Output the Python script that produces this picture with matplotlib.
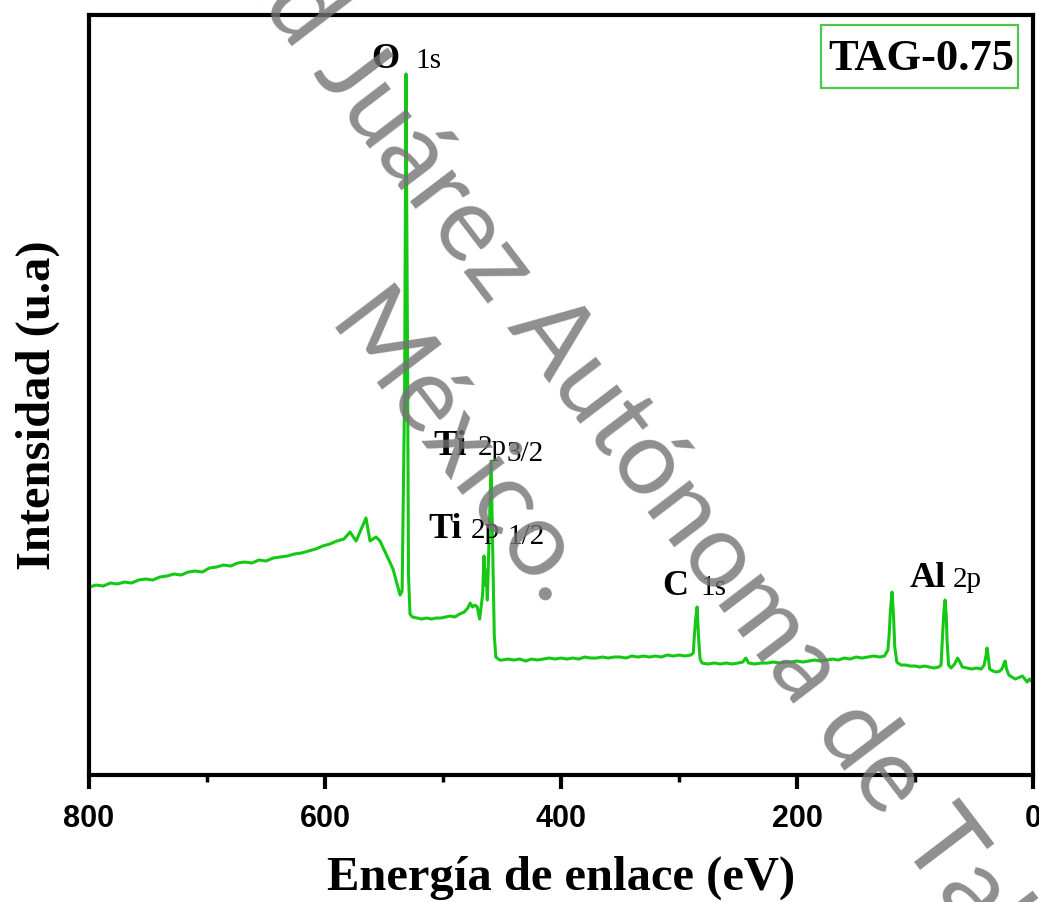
import numpy as np
import matplotlib
matplotlib.use('Agg')
import matplotlib.pyplot as plt
from matplotlib.ticker import MultipleLocator
from matplotlib.patches import Rectangle

#-----------------------------------------------------------------------
# Espectro XPS general, muestra TAG-0.75
# energia de enlace (eV) / intensidad (u.a.)
#-----------------------------------------------------------------------
e_fondo = [800, 794, 788, 782, 776, 770, 764, 758, 752, 746, 740, 734, 728, 722,
           716, 710, 704, 698, 692, 686, 680, 674, 668, 662, 656, 650, 644, 638,
           632, 626, 620, 614, 608, 602, 596, 590, 584, 578.8, 573.7, 565.3, 561.9,
           556.8, 553.4, 547.5, 542.4, 539.0, 536.4, 534.7]
i_fondo = [188, 190, 189, 192, 191, 193, 192, 195, 196, 195, 198, 199, 201, 200,
           203, 204, 203, 207, 208, 210, 209, 212, 213, 212, 215, 214, 217, 218,
           219, 221, 222, 224, 226, 229, 231, 234, 236, 243, 234, 257, 234,
           238, 234, 219, 206, 191, 180, 184]

e_O1s = [532.6, 531.4, 530.1, 529.3, 528.0]
i_O1s = [380, 701, 420, 200, 161]

e_meseta = [526, 522, 518, 514, 510, 506, 502, 498, 494, 490, 486, 482, 479,
            477, 475, 473, 471, 469]
i_meseta = [158, 157, 156, 157, 156, 157, 157, 158, 159, 158, 161, 163, 167,
            172, 168, 170, 168, 156]

e_Ti2p = [466.5, 465.3, 464.3, 463.5, 462.5, 461.0, 459.3, 457.8, 456.6, 455.3, 452]
i_Ti2p = [180, 219, 190, 205, 175, 236, 314, 220, 140, 118, 115]

e_medio = [450, 445, 440, 435, 430, 425, 420, 415, 410, 405, 400, 395, 390, 385,
           380, 375, 370, 365, 360, 355, 350, 345, 340, 335, 330, 325, 320, 315,
           310, 305, 300, 295, 290, 288]
i_medio = [115, 116, 115, 116, 114, 116, 115, 116, 117, 116, 117, 116, 117, 116,
           118, 117, 117, 118, 117, 118, 118, 117, 119, 118, 119, 118, 119, 118,
           120, 119, 120, 119, 120, 122]

e_C1s = [287.0, 285.9, 284.7, 283.5, 282.2, 280.5]
i_C1s = [140, 156, 168, 138, 116, 112]

e_bajo = [276, 270, 265, 260, 255, 250, 246, 243.5, 241, 236, 230, 225, 220, 215,
          210, 205, 200, 195, 190, 185, 180, 175, 170, 165, 160, 155, 150, 145,
          140, 135, 130, 126, 123]
i_bajo = [111, 112, 111, 112, 111, 112, 113, 117, 112, 111, 112, 112, 113, 112,
          113, 113, 114, 113, 114, 115, 114, 115, 116, 115, 117, 116, 118, 117,
          118, 119, 118, 119, 125]

e_Al = [122.0, 120.8, 119.5, 118.3, 117.2, 115.5, 112, 108, 104, 100, 96, 92, 88,
        84, 80, 78, 76.7, 75.5, 74.6, 73.6, 72.8, 71.6, 69.5]
i_Al = [140, 166, 183, 160, 128, 113, 110, 110, 109, 109, 108, 109, 108,
        107, 108, 110, 140, 165, 175, 160, 132, 110, 107]

e_final = [66.5, 64.0, 62.0, 60.0, 56, 52, 48, 44, 41.5, 39.8, 39.0, 38.0, 36.8,
           34, 31, 28, 26, 24.5, 23.6, 22.5, 20.5, 18, 15, 13, 11, 9, 7, 5, 3, 1.5]
i_final = [111, 117, 113, 108, 107, 106, 107, 106, 110, 120, 127, 118, 106,
           104, 103, 104, 107, 112, 114, 106, 100, 98, 96, 97, 98, 99, 96, 93, 96, 94]

energia = np.concatenate([e_fondo, e_O1s, e_meseta, e_Ti2p, e_medio, e_C1s,
                          e_bajo, e_Al, e_final])
intensidad = np.concatenate([i_fondo, i_O1s, i_meseta, i_Ti2p, i_medio, i_C1s,
                             i_bajo, i_Al, i_final])

serif = 'Liberation Serif'
sans = 'Liberation Sans'
verde = '#14c814'

fig = plt.figure(figsize=(10.39, 9.03), dpi=100)
ax = fig.add_axes([0.0857, 0.1406, 0.9086, 0.8417])

ax.plot(energia, intensidad, color=verde, lw=2.2)

ax.set_xlim(800, 0)
ax.set_ylim(0, 760)
ax.set_yticks([])
ax.xaxis.set_major_locator(MultipleLocator(200))
ax.xaxis.set_minor_locator(MultipleLocator(100))
ax.tick_params(axis='x', which='major', direction='out', length=10, width=3, pad=10)
ax.tick_params(axis='x', which='minor', direction='out', length=5, width=2.5)
for lab in ax.get_xticklabels():
	lab.set_fontfamily(sans)
	lab.set_fontweight('bold')
	lab.set_fontsize(22)
for sp in ax.spines.values():
	sp.set_linewidth(3)

ax.set_xlabel('Energía de enlace (eV)', fontsize=35, fontweight='bold', family=serif)
ax.xaxis.set_label_coords(0.5, -0.105)
ax.set_ylabel('Intensidad (u.a)', fontsize=35, fontweight='bold', family=serif)
ax.yaxis.set_label_coords(-0.031, 0.488)

# etiquetas de los picos: simbolo en negrita + orbital
def pico(x_sim, x_orb, y, simbolo, orbital, x_sub=None, sub=None):
	ax.text(x_sim, y, simbolo, fontsize=26, fontweight='bold', family=serif, va='baseline')
	ax.text(x_orb, y, orbital, fontsize=21, family=serif, va='baseline')
	if sub is not None:
		ax.text(x_sub, y - 6, sub, fontsize=21, family=serif, va='baseline')

pico(561.0, 523.7, 708, 'O', '1s')
pico(508.5, 470.3, 321, 'Ti', '2p', 445.8, '3/2')
pico(512.7, 476.3, 238, 'Ti', '2p', 445.8, '1/2')
pico(314.4, 282.2, 181, 'C', '1s')
pico(104.2, 67.8, 189, 'Al', '2p')

# recuadro con el nombre de la muestra
ax.add_patch(Rectangle((0.7754, 0.9039), 0.2087, 0.0829, transform=ax.transAxes,
                       fc='white', ec='#4cc84c', lw=1.6, zorder=3))
ax.text(0.8814, 0.929, 'TAG-0.75', transform=ax.transAxes, ha='center', va='baseline',
        fontsize=32, fontweight='bold', family=serif, zorder=4)

# marca de agua
marca = dict(fontsize=75, family='Lato', color='0.45', alpha=0.8,
             rotation=-52.7, rotation_mode='anchor', va='baseline')
fig.text(490 / 1039, 1 - 306 / 903, 'Universidad Juárez', ha='right', **marca)
fig.text(506 / 1039, 1 - 327 / 903, 'Autónoma de Tabasco.', ha='left', **marca)
fig.text(435 / 1039, 1 - 471 / 903, 'México.', ha='center', **marca)

fig.savefig('out.png', dpi=100)
